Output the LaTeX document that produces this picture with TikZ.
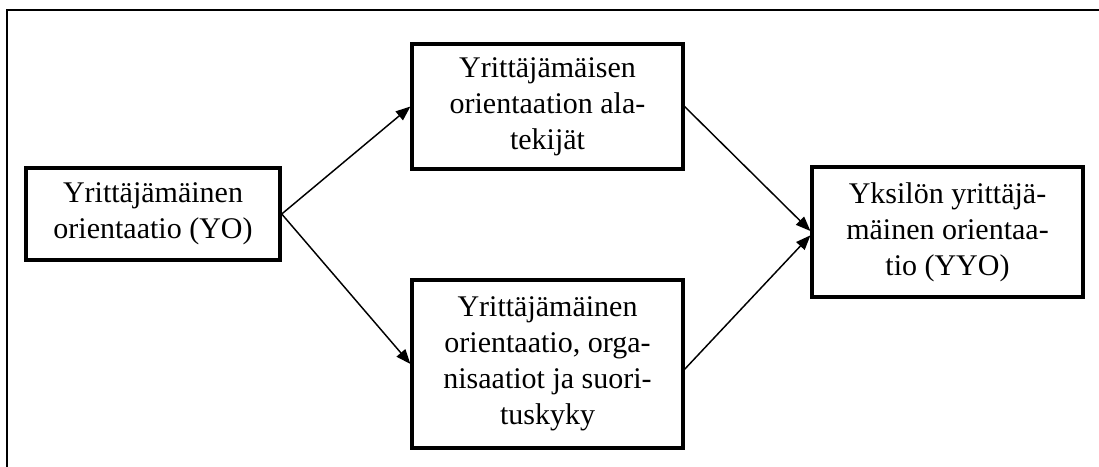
\documentclass[tikz,border=0pt]{standalone}
\usepackage{fontspec}
\setmainfont{Liberation Serif}
\usetikzlibrary{arrows.meta}
\begin{document}
\begin{tikzpicture}[x=0.75pt,y=-0.75pt,
  box/.style={draw,line width=2.6pt,align=center,inner sep=0pt,
    font=\fontsize{22.5}{27}\selectfont},
  link/.style={line width=1.1pt,-{Triangle[length=11pt,width=8.5pt]}},
  frame/.style={line width=1.7pt}]
  \useasboundingbox (0,0) rectangle (1099,467);
  % open frame: top and left sides only
  \draw[frame] (7,470) -- (7,10) -- (1102,10);
  % boxes
  \node[box,minimum width=190.5pt,minimum height=69pt] (yo) at (153,214)
    {Yrittäjämäinen\\orientaatio (YO)};
  \node[box,minimum width=203pt,minimum height=94pt] (sub) at (547.5,106.5)
    {Yrittäjämäisen\\orientaation ala-\\tekijät};
  \node[box,minimum width=203pt,minimum height=126pt] (org) at (547.5,364)
    {Yrittäjämäinen\\orientaatio, orga-\\nisaatiot ja suori-\\tuskyky};
  \node[box,minimum width=203pt,minimum height=97.5pt] (yyo) at (947.5,232)
    {Yksilön yrittäjä-\\mäinen orientaa-\\tio (YYO)};
  % connectors
  \draw[link] (yo.east) -- (sub.west);
  \draw[link] (yo.east) -- (org.west);
  \draw[link] (sub.east) -- ([yshift=0.75pt]yyo.west);
  \draw[link] ([yshift=-4pt]org.east) -- ([yshift=-2.5pt]yyo.west);
\end{tikzpicture}
\end{document}
